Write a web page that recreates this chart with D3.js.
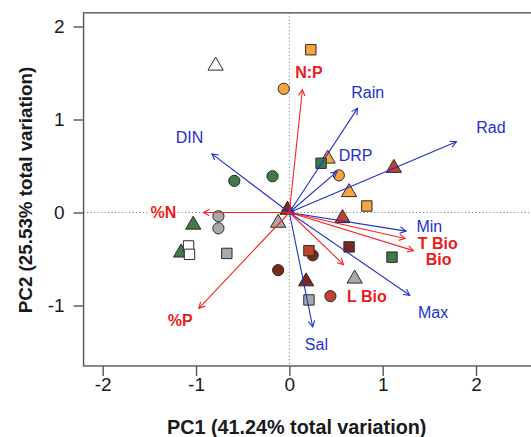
<!DOCTYPE html>
<html>
<head>
<meta charset="utf-8">
<script src="https://cdn.jsdelivr.net/npm/d3@7"></script>
<style>
  body { margin: 0; background: #fff; }
  text { font-family: "Liberation Sans", Arial, Helvetica, sans-serif; }
</style>
</head>
<body>
<script>
// site scores (PC1, PC2), shape and colour group
const sitePC1 = [0.23, -0.06, 0.41, 0.53, 0.64, 0.83,
  -0.59, -0.18, 0.34, 1.10, -1.03, -1.16,
  -0.76, -0.76, -0.67, 0.21, -0.12, 0.70,
  -0.79, -1.08, -1.07,
  -0.12, 0.25, 0.64, 0.18, -0.02,
  1.12, 0.57, 0.21, 0.44];
const sitePC2 = [1.75, 1.33, 0.60, 0.40, 0.24, 0.07,
  0.34, 0.39, 0.53, -0.48, -0.11, -0.41,
  -0.04, -0.17, -0.44, -0.94, -0.09, -0.69,
  1.60, -0.36, -0.45,
  -0.62, -0.46, -0.37, -0.72, 0.05,
  0.50, -0.04, -0.41, -0.90];
const siteShape = ['square', 'circle', 'triangle', 'circle', 'triangle', 'square',
  'circle', 'circle', 'square', 'square', 'triangle', 'triangle',
  'circle', 'circle', 'square', 'square', 'triangle', 'triangle',
  'triangle', 'square', 'square',
  'circle', 'circle', 'square', 'triangle', 'triangle',
  'triangle', 'triangle', 'square', 'circle'];
const siteGroup = ['orange', 'orange', 'orange', 'orange', 'orange', 'orange',
  'green', 'green', 'green', 'green', 'green', 'green',
  'grey', 'grey', 'grey', 'grey', 'grey', 'grey',
  'white', 'white', 'white',
  'darkred', 'darkred', 'darkred', 'darkred', 'darkred',
  'red', 'red', 'red', 'red'];

// environmental loadings (blue)
const envVars = ['DIN', 'Rain', 'Rad', 'DRP', 'Min', 'Max', 'Sal'];
const envPC1 = [-0.83, 0.73, 1.79, 0.51, 1.25, 1.29, 0.25];
const envPC2 = [0.63, 1.12, 0.76, 0.44, -0.20, -0.89, -1.23];
const envLabPC1 = [-1.07, 0.84, 2.16, 0.71, 1.50, 1.54, 0.29];
const envLabPC2 = [0.81, 1.29, 0.91, 0.61, -0.15, -1.08, -1.42];

// biological loadings (red)
const bioVars = ['N:P', '%N', '%P', 'T Bio', 'Bio', 'L Bio'];
const bioPC1 = [0.14, -0.92, -0.97, 1.24, 1.33, 0.58];
const bioPC2 = [1.32, 0.0, -1.03, -0.28, -0.41, -0.56];
const bioLabPC1 = [0.21, -1.35, -1.17, 1.59, 1.60, 0.83];
const bioLabPC2 = [1.51, 0.0, -1.16, -0.33, -0.50, -0.90];

const xTicks = [-2, -1, 0, 1, 2];
const yTicks = [-1, 0, 1, 2];

const groupColor = {
  orange: '#f8a53f', green: '#3f7a47', grey: '#a9a9a9',
  white: '#ffffff', darkred: '#7a2a1d', red: '#c0432a'
};
const blue = '#1f2fd2';
const red = '#fa2424';

const width = 531;
const height = 437;

const svg = d3.select('body').append('svg')
  .attr('width', width)
  .attr('height', height);

const x = d3.scaleLinear().domain([-2, 2]).range([102.7, 476]);
const y = d3.scaleLinear().domain([-1, 2]).range([305.5, 26.5]);

const boxLeft = x(-2.205), boxRight = x(2.8);
const boxTop = y(2.147), boxBottom = y(-1.65);

const defs = svg.append('defs');
defs.append('clipPath').attr('id', 'plot')
  .append('rect')
  .attr('x', boxLeft).attr('y', boxTop)
  .attr('width', boxRight - boxLeft).attr('height', boxBottom - boxTop);

// arrowheads
['blue', 'red'].forEach(name => {
  defs.append('marker')
    .attr('id', 'head-' + name)
    .attr('markerUnits', 'userSpaceOnUse')
    .attr('markerWidth', 12).attr('markerHeight', 12)
    .attr('viewBox', '-8 -6 10 12')
    .attr('refX', 0).attr('refY', 0)
    .attr('orient', 'auto')
    .append('path')
    .attr('d', 'M-6,-3.2L0,0L-6,3.2')
    .attr('fill', 'none')
    .attr('stroke', name === 'blue' ? blue : red)
    .attr('stroke-width', 1.1);
});

const plot = svg.append('g').attr('clip-path', 'url(#plot)');

// zero lines
plot.append('line')
  .attr('x1', x(0)).attr('x2', x(0))
  .attr('y1', boxTop).attr('y2', boxBottom)
  .attr('stroke', '#777').attr('stroke-dasharray', '1,2.5');
plot.append('line')
  .attr('x1', boxLeft).attr('x2', boxRight)
  .attr('y1', y(0)).attr('y2', y(0))
  .attr('stroke', '#777').attr('stroke-dasharray', '1,2.5');

// symbols
function symbolPath(shape) {
  if (shape === 'circle') {
    const p = d3.path();
    p.arc(0, 0, 5.6, 0, 2 * Math.PI);
    return p.toString();
  }
  if (shape === 'square') return 'M-5.2,-5.2H5.2V5.2H-5.2Z';
  return 'M0,-6.6L7.6,6.4H-7.6Z';
}

const sites = sitePC1.map((v, i) => ({
  pc1: v, pc2: sitePC2[i], shape: siteShape[i], group: siteGroup[i]
}));

plot.selectAll('path.site')
  .data(sites)
  .enter().append('path')
  .attr('class', 'site')
  .attr('transform', d => `translate(${x(d.pc1)},${y(d.pc2)})`)
  .attr('d', d => symbolPath(d.shape))
  .attr('fill', d => groupColor[d.group])
  .attr('stroke', '#2a2a2a')
  .attr('stroke-width', 1);

// loadings
const loadings = envVars.map((name, i) => ({
  name, pc1: envPC1[i], pc2: envPC2[i], lx: envLabPC1[i], ly: envLabPC2[i], kind: 'blue'
})).concat(bioVars.map((name, i) => ({
  name, pc1: bioPC1[i], pc2: bioPC2[i], lx: bioLabPC1[i], ly: bioLabPC2[i], kind: 'red'
})));

plot.selectAll('line.load')
  .data(loadings)
  .enter().append('line')
  .attr('class', 'load')
  .attr('x1', x(0)).attr('y1', y(0))
  .attr('x2', d => x(d.pc1)).attr('y2', d => y(d.pc2))
  .attr('stroke', d => d.kind === 'blue' ? blue : red)
  .attr('stroke-width', 1.1)
  .attr('marker-end', d => `url(#head-${d.kind})`);

plot.selectAll('text.load')
  .data(loadings)
  .enter().append('text')
  .attr('class', 'load')
  .attr('x', d => x(d.lx)).attr('y', d => y(d.ly))
  .attr('text-anchor', 'middle')
  .attr('dominant-baseline', 'central')
  .attr('font-size', 16)
  .attr('font-weight', d => d.kind === 'red' ? 'bold' : 'normal')
  .attr('fill', d => d.kind === 'blue' ? blue : '#ee1a1a')
  .attr('stroke', '#fff').attr('stroke-width', 3)
  .attr('paint-order', 'stroke')
  .text(d => d.name);

// frame
svg.append('rect')
  .attr('x', boxLeft).attr('y', boxTop)
  .attr('width', boxRight - boxLeft).attr('height', boxBottom - boxTop)
  .attr('fill', 'none')
  .attr('stroke', '#555').attr('stroke-width', 1.4);

// axes
const xAxis = svg.append('g')
  .attr('transform', `translate(0,${boxBottom})`)
  .call(d3.axisBottom(x).tickValues(xTicks).tickSize(10).tickPadding(2)
    .tickFormat(d => String(d)));
const yAxis = svg.append('g')
  .attr('transform', `translate(${boxLeft},0)`)
  .call(d3.axisLeft(y).tickValues(yTicks).tickSize(10).tickPadding(9)
    .tickFormat(d => String(d)));

[xAxis, yAxis].forEach(g => {
  g.select('.domain').remove();
  g.selectAll('.tick line').attr('stroke', '#555').attr('stroke-width', 1.4);
  g.selectAll('.tick text')
    .attr('font-size', 19)
    .attr('font-family', '"Liberation Sans", Arial, sans-serif')
    .attr('fill', '#1a1a1a');
});

svg.append('text')
  .attr('x', 296.7).attr('y', 434)
  .attr('text-anchor', 'middle')
  .attr('font-size', 19.8).attr('font-weight', 'bold')
  .attr('fill', '#1a1a1a')
  .text('PC1 (41.24% total variation)');

svg.append('text')
  .attr('transform', 'translate(32,190) rotate(-90)')
  .attr('text-anchor', 'middle')
  .attr('font-size', 18.8).attr('font-weight', 'bold')
  .attr('fill', '#1a1a1a')
  .text('PC2 (25.53% total variation)');
</script>
</body>
</html>
